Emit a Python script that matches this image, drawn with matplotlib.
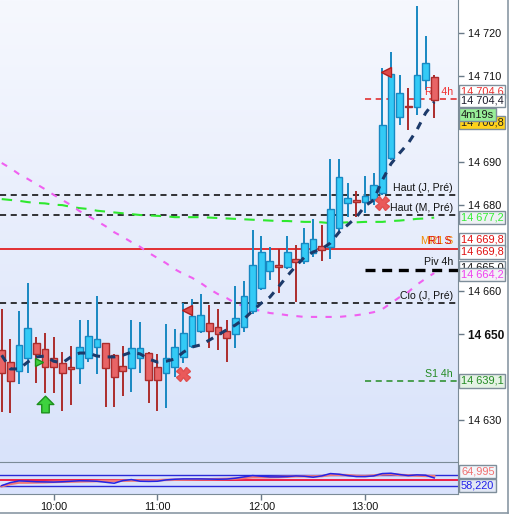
import matplotlib
matplotlib.use('Agg')
import matplotlib.pyplot as plt
from matplotlib.colors import LinearSegmentedColormap
from matplotlib.lines import Line2D
from matplotlib.path import Path
import numpy as np

plt.rcParams['font.family'] = ['Liberation Sans', 'DejaVu Sans']

# 5 min candles, 09:30 -> 13:40
opens = [14646.3, 14643.5, 14641.4, 14644.4, 14647.9, 14646.5, 14644.4, 14643.3, 14642.3, 14642.1,
         14644.4, 14647.0, 14647.9, 14645.1, 14642.6, 14642.1, 14644.4, 14645.6, 14642.3, 14641.0,
         14642.3, 14644.7, 14647.2, 14650.7, 14652.6, 14651.7, 14650.7, 14650.0, 14651.7, 14655.4,
         14660.7, 14664.7, 14666.1, 14665.6, 14667.5, 14667.0, 14668.9, 14670.5, 14670.3, 14674.7,
         14680.5, 14681.2, 14680.7, 14681.4, 14682.8, 14691.0, 14700.5, 14703.1, 14702.8, 14709.1,
         14709.8]
highs = [14655.8, 14648.9, 14655.4, 14661.9, 14649.3, 14650.3, 14649.3, 14645.8, 14647.2, 14653.3,
         14653.3, 14658.9, 14647.9, 14645.4, 14647.2, 14653.3, 14652.8, 14645.8, 14645.4, 14652.3,
         14651.2, 14657.2, 14658.2, 14659.3, 14656.8, 14655.8, 14653.3, 14661.2, 14662.3, 14674.2,
         14672.8, 14670.3, 14669.8, 14672.8, 14670.7, 14674.7, 14676.8, 14675.4, 14690.7, 14690.7,
         14685.1, 14683.3, 14686.8, 14687.5, 14711.9, 14715.6, 14710.3, 14707.2, 14726.3, 14719.3,
         14710.3]
lows = [14631.9, 14631.7, 14638.4, 14641.0, 14638.6, 14636.3, 14636.3, 14632.1, 14633.5, 14638.4,
        14643.5, 14640.7, 14633.0, 14633.0, 14635.6, 14636.5, 14641.0, 14634.0, 14632.1, 14632.8,
        14640.0, 14643.3, 14646.8, 14650.3, 14646.8, 14646.3, 14643.5, 14646.8, 14650.5, 14654.7,
        14660.3, 14662.6, 14659.6, 14665.1, 14657.5, 14666.3, 14667.9, 14667.0, 14667.5, 14673.7,
        14677.2, 14677.2, 14678.2, 14680.0, 14682.4, 14690.5, 14698.6, 14697.5, 14701.0, 14706.8,
        14700.3]
closes = [14641.0, 14639.1, 14647.5, 14651.4, 14645.4, 14642.3, 14642.3, 14641.0, 14641.9, 14647.0,
          14649.6, 14648.9, 14642.1, 14640.0, 14641.4, 14646.8, 14646.8, 14639.3, 14639.3, 14644.4,
          14647.0, 14650.3, 14654.2, 14654.4, 14650.7, 14650.0, 14649.1, 14653.7, 14658.9, 14666.1,
          14669.1, 14667.0, 14665.6, 14669.1, 14666.8, 14671.2, 14672.1, 14669.6, 14679.1, 14686.5,
          14681.7, 14680.7, 14682.1, 14684.7, 14698.6, 14710.5, 14706.1, 14702.8, 14710.3, 14713.1,
          14704.4]

# trailing line (navy dashes)
trail = [14645.1, 14641.9, 14641.9, 14643.5, 14644.7, 14644.9, 14643.7, 14643.3, 14644.7, 14645.6,
         14645.6, 14644.9, 14644.7, 14644.7, 14645.1, 14645.8, 14645.4, 14644.2, 14643.5, 14643.7,
         14644.2, 14645.8, 14647.0, 14647.5, 14648.6, 14649.8, 14651.0, 14652.1, 14653.5, 14655.4,
         14657.2, 14658.6, 14661.0, 14663.5, 14665.8, 14667.9, 14669.1, 14669.8, 14671.2, 14673.7,
         14675.4, 14677.2, 14679.8, 14681.2, 14685.8, 14689.6, 14692.1, 14694.4, 14697.5, 14701.4,
         14704.0]
# slow average (magenta)
ma_slow = [14689.8, 14688.6, 14687.2, 14686.1, 14684.9, 14683.7, 14682.4, 14681.2, 14680.0, 14678.6,
           14677.5, 14676.3, 14675.1, 14673.7, 14672.6, 14671.4, 14670.3, 14668.9, 14667.7, 14666.5,
           14665.1, 14664.0, 14663.1, 14661.9, 14660.5, 14659.3, 14658.4, 14657.2, 14656.5, 14655.8,
           14655.4, 14654.9, 14654.7, 14654.4, 14654.2, 14654.0, 14654.0, 14654.0, 14654.0, 14654.0,
           14654.2, 14654.4, 14654.7, 14655.1, 14655.8, 14657.2, 14658.6, 14659.8, 14661.5, 14662.9,
           14664.2]
# green average
ma_green = [14681.4, 14681.2, 14681.0, 14680.7, 14680.5, 14680.4, 14680.1, 14680.0, 14679.6, 14679.3,
            14679.1, 14678.7, 14678.5, 14678.3, 14678.1, 14677.9, 14677.7, 14677.6, 14677.5, 14677.4,
            14677.2, 14677.2, 14677.2, 14677.2, 14677.1, 14677.0, 14676.9, 14676.8, 14676.7, 14676.6,
            14676.5, 14676.4, 14676.3, 14676.3, 14676.2, 14676.1, 14676.1, 14676.0, 14675.8, 14675.9,
            14676.0, 14676.0, 14676.1, 14676.1, 14676.1, 14676.3, 14676.4, 14676.6, 14676.8, 14676.9,
            14677.1]

# lower indicator
osc_blue = [30.5, 41.4, 47.5, 46.2, 44.4, 43.8, 43.2, 44.4, 46.2, 48.1,
            47.5, 46.2, 42.6, 39.0, 48.7, 52.3, 46.2, 45.6, 46.2, 51.1,
            53.5, 54.7, 54.7, 54.7, 54.1, 53.5, 54.1, 57.2, 62.0, 66.8,
            64.4, 62.0, 62.0, 63.2, 65.6, 64.4, 60.8, 65.6, 74.1, 71.7,
            66.8, 63.2, 63.2, 65.6, 74.1, 75.3, 70.5, 66.8, 69.3, 68.1,
            58.2]
osc_red = [28.1, 36.5, 41.4, 41.4, 42.0, 42.6, 43.8, 44.4, 45.0, 45.6,
           46.2, 46.8, 47.5, 47.5, 48.1, 48.7, 48.7, 48.7, 49.9, 51.1,
           51.7, 52.3, 52.9, 53.5, 53.5, 54.1, 54.7, 55.9, 58.4, 60.8,
           60.8, 60.8, 61.4, 62.6, 64.4, 64.4, 63.8, 65.0, 69.3, 69.3,
           68.1, 65.6, 65.0, 66.8, 71.1, 71.7, 69.3, 67.5, 66.8, 65.6,
           65.0]
osc_levels = [70, 50, 30]

# levels
day_levels = [('Haut (J, Pré)', 14682.4), ('Haut (M, Pré)', 14677.7), ('Clo (J, Pré)', 14657.2)]
red_level = 14669.8
r1_4h, piv_4h, s1_4h = 14704.6, 14665.0, 14639.1
start_4h = 42

# signals
tri_idx, tri_px = [22, 45], [14655.5, 14711.0]
x_idx, x_px = [21, 44], [14640.7, 14680.5]
arrow_idx, arrow_px = [5], [14633.7]
flag_idx, flag_px = [4], [14643.5]

time_idx = [6, 18, 30, 42]
time_lab = ['10:00', '11:00', '12:00', '13:00']
price_ticks = [14630, 14640, 14650, 14660, 14670, 14680, 14690, 14700, 14710, 14720]

W, H = 510, 515
fig = plt.figure(figsize=(W / 100, H / 100), dpi=100)
fig.patch.set_facecolor('white')
ax = fig.add_axes([0, (H - 462) / H, 458 / W, 462 / H])
pane = fig.add_axes([0, (H - 494) / H, 458 / W, 32 / H], sharex=ax)

x0, x1 = -0.2, 52.75
y0, y1 = 14620.26, 14727.7
bg = LinearSegmentedColormap.from_list('bg', ['#f6f8fe', '#d9e3fa'])
ax.imshow(np.linspace(0, 1, 256)[:, None], extent=[x0, x1, y0, y1], aspect='auto',
          cmap=bg, origin='upper', zorder=0)
ax.set_xlim(x0, x1)
ax.set_ylim(y0, y1)

idx = np.arange(len(opens))
o, h, l, c = map(np.array, (opens, highs, lows, closes))
up = c >= o
fill = np.where(up, '#33caf6', '#e86466')
edge = np.where(up, '#1888c2', '#ac2c2c')
ax.vlines(idx, l, h, colors=edge, lw=1.4, zorder=3)
body = np.maximum(np.abs(c - o), 0.25)
ax.bar(idx, body, bottom=np.minimum(o, c), width=0.78, color=fill,
       edgecolor=edge, lw=1.0, zorder=4)

# horizontal levels
for name, v in day_levels:
    ax.axhline(v, color='black', lw=1.1, dashes=(4, 3), zorder=2)
    ax.annotate(name, xy=(0.989, v), xycoords=('axes fraction', 'data'), xytext=(0, 4.8),
                textcoords='offset points', ha='right', va='center', fontsize=7.6, color='#111111')
ax.axhline(red_level, color='#e01010', lw=1.2, zorder=2)
ax.annotate('MR1 S', xy=(0.989, red_level), xycoords=('axes fraction', 'data'), xytext=(0, 5.4),
            textcoords='offset points', ha='right', va='center', fontsize=7.6, color='#f08a00')
ax.annotate('R1 S', xy=(0.986, red_level), xycoords=('axes fraction', 'data'), xytext=(0, 5.4),
            textcoords='offset points', ha='right', va='center', fontsize=7.6, color='#e01010')

ax.hlines(r1_4h, start_4h, x1, color='#e02020', lw=1.1, linestyles=(0, (4, 3)), zorder=2)
ax.hlines(piv_4h, start_4h, x1, color='black', lw=2.4, linestyles=(0, (3, 2)), zorder=2)
ax.hlines(s1_4h, start_4h, x1, color='#238b23', lw=1.1, linestyles=(0, (4, 3)), zorder=2)
for name, v, col in [('R1 4h', r1_4h, '#f03030'), ('Piv 4h', piv_4h, '#111111'),
                     ('S1 4h', s1_4h, '#238b23')]:
    ax.annotate(name, xy=(0.989, v), xycoords=('axes fraction', 'data'), xytext=(0, 5.2),
                textcoords='offset points', ha='right', va='center', fontsize=7.6, color=col)

# averages and trailing line
ax.plot(idx, ma_green, color='#2ee82e', lw=1.5, dashes=(5, 4), zorder=3)
ax.plot(idx, ma_slow, color='#f060f0', lw=1.5, dashes=(3, 4), zorder=3)
ax.plot(idx, trail, color='#1c3a6a', lw=2.2, dashes=(2.5, 2.5), zorder=5)

# signals
ax.plot(np.array(tri_idx) - 0.55, tri_px, ls='none', marker='<', ms=6.5,
        mfc='#e04848', mec='#b02020', zorder=6)
ax.plot(x_idx, x_px, ls='none', marker='X', ms=10, mfc='#ea5a5a', mec='#e05050', zorder=6)
arrow = Path([(0, 1), (1, 0), (0.45, 0), (0.45, -1), (-0.45, -1), (-0.45, 0), (-1, 0), (0, 1)],
             [1, 2, 2, 2, 2, 2, 2, 79])
ax.plot(arrow_idx, arrow_px, ls='none', marker=arrow, ms=12, mfc='#3ed23e', mec='#1c901c',
        mew=1, zorder=6)
ax.plot(np.array(flag_idx) + 0.35, flag_px, ls='none', marker='>', ms=5.5, mfc='#3ed23e',
        mec='#1c901c', zorder=6)

# price axis
ax.yaxis.tick_right()
ax.set_yticks(price_ticks)
labels = ['' if p in (14640, 14670, 14700) else '{:,}'.format(p).replace(',', ' ')
          for p in price_ticks]
ax.set_yticklabels(labels)
ax.tick_params(axis='y', direction='out', length=4, width=1, color='#6a7a88', pad=3,
               labelsize=7.8, labelcolor='#111111')
for t in ax.get_yticklabels():
    if t.get_text() == '14 650':
        t.set_fontweight('bold')
        t.set_fontsize(8.6)
ax.tick_params(axis='x', bottom=False, labelbottom=False)
for s in ('left', 'top', 'bottom'):
    ax.spines[s].set_visible(False)
ax.spines['right'].set_color('#7b8b97')

# value boxes on the price axis
boxes = [('14 704,6', r1_4h, 8, '#e83030', 'white'),
         ('14 704,4', closes[-1], 0, '#1a1a2a', 'white'),
         ('14 700,8', 14700.8, -7, '#222222', '#ffd21a'),
         ('4m19s', 14700.8, 1, '#1a1a1a', '#98ee98'),
         ('14 677,2', ma_green[-1], 0, '#33ee33', '#eef1f4'),
         ('14 669,8', red_level, 9, '#e01010', 'white'),
         ('14 669,8', red_level, -3, '#e01010', 'white'),
         ('14 665,0', piv_4h, 2, '#111111', 'white'),
         ('14 664,2', ma_slow[-1], -1, '#f040f0', '#f2f2f6'),
         ('14 639,1', s1_4h, 0, '#238b23', '#e4f2e4')]
for z, (txt, v, dy, tc, fc) in enumerate(boxes):
    ax.annotate(txt, xy=(1.0066, v), xycoords=('axes fraction', 'data'), xytext=(0, dy * 0.72),
                textcoords='offset points', ha='left', va='center', fontsize=7.9, color=tc,
                annotation_clip=False, zorder=10 + z,
                bbox=dict(boxstyle='square,pad=0.14', fc=fc, ec='#7e8e9a', lw=1))

# lower pane
pane.set_facecolor('#dae3fc')
pane.set_ylim(0, 116)
pane.axhline(osc_levels[0], color='#2a2ad8', lw=1)
pane.axhline(osc_levels[1], color='#f0103a', lw=1.3)
pane.axhline(osc_levels[2], color='#2a2ad8', lw=1)
pane.plot(idx, osc_red, color='#f07878', lw=1.8, zorder=3)
pane.plot(idx, osc_blue, color='#2424e6', lw=1.1, zorder=4)
for txt, v, dy, tc, fc in [('64,995', osc_red[-1], 5, '#f07070', '#f4f6fa'),
                           ('58,220', osc_blue[-1], -8, '#2020e8', '#e2e8f4')]:
    pane.annotate(txt, xy=(1.0066, v), xycoords=('axes fraction', 'data'), xytext=(0, dy * 0.72),
                  textcoords='offset points', ha='left', va='center', fontsize=7.9, color=tc,
                  annotation_clip=False, zorder=10,
                  bbox=dict(boxstyle='square,pad=0.14', fc=fc, ec='#7e8e9a', lw=1))
pane.set_yticks([])
pane.set_xticks(time_idx)
pane.set_xticklabels(time_lab)
pane.tick_params(axis='x', direction='out', length=4, width=1, color='#6a7a88', pad=2,
                 labelsize=7.8, labelcolor='#111111')
pane.spines['left'].set_visible(False)
for s in ('top', 'right', 'bottom'):
    pane.spines[s].set_color('#7b8b97')
pane.set_xlim(x0, x1)

# outer frame
fig.add_artist(Line2D([508 / W, 508 / W], [2 / H, 1], color='#8a98a4', lw=1.2))
fig.add_artist(Line2D([0, 508 / W], [2 / H, 2 / H], color='#8a98a4', lw=1.2))

fig.savefig('out.png', dpi=100, facecolor=fig.get_facecolor())
